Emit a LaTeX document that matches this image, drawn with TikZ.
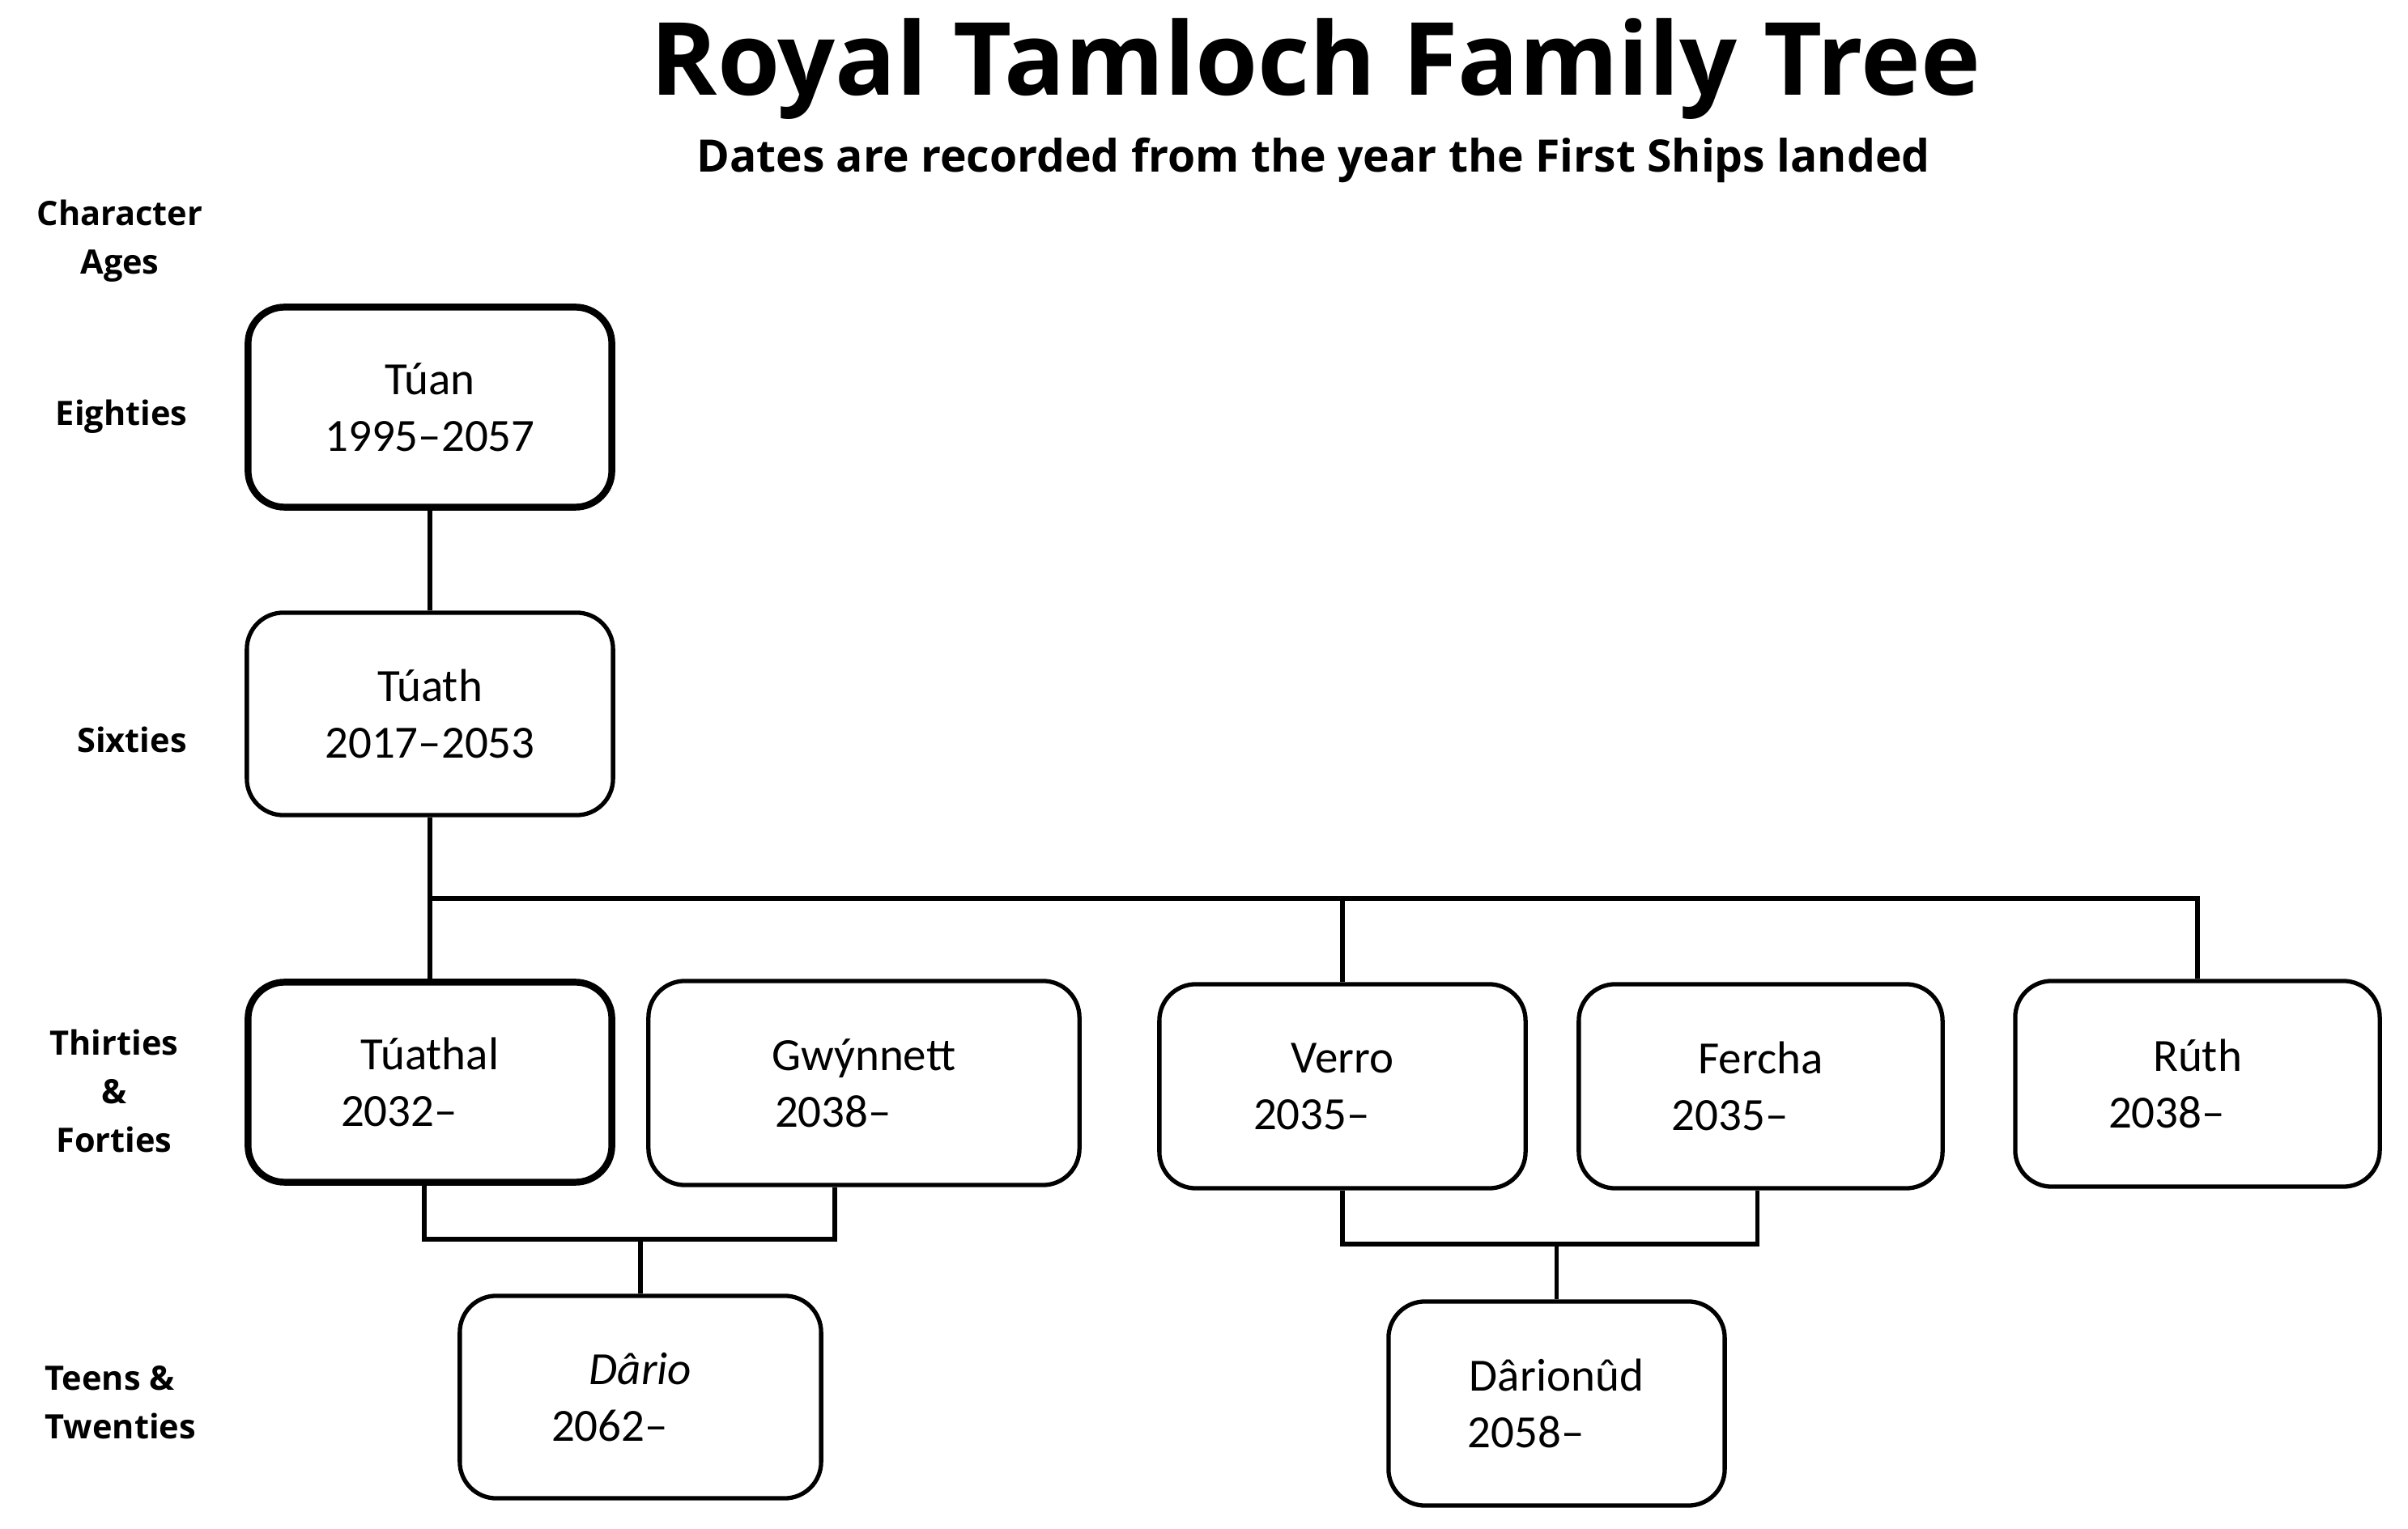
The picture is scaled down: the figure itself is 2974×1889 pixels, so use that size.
\documentclass[tikz,border=0pt]{standalone}
\usepackage{fontspec}
\setmainfont{Carlito}
\newfontfamily\headfont{Open Sans}
\begin{document}
\begin{tikzpicture}[x=0.01cm,y=-0.01cm,
  person/.style={draw, rounded corners=0.45cm, line width=1.5pt, align=center, inner sep=0pt,
    font=\fontsize{16.2}{19.9}\selectfont},
  thickbox/.style={person, line width=2.4pt},
  conn/.style={line width=1.5pt},
  agelabel/.style={align=center, inner sep=0pt, font=\headfont\bfseries\fontsize{11.8}{17.07}\selectfont}
]
\useasboundingbox (0,0) rectangle (2974,1889);
\fill[white] (0,0) rectangle (2974,1889);

% titles
\node[anchor=base, inner sep=0pt, font=\headfont\bfseries\fontsize{35.5}{44}\selectfont] (title) at (1625,118) {Royal Tamloch Family Tree};
\node[anchor=base, inner sep=0pt, font=\headfont\bfseries\fontsize{15.7}{19}\selectfont] (subtitle) at (1622,213) {Dates are recorded from the year the First Ships landed};

% age labels
\node[agelabel] (lchar) at (148,298) {Character\\Ages};
\node[agelabel, anchor=base] (leight) at (150,526) {Eighties};
\node[agelabel, anchor=base] (lsix) at (163,930) {Sixties};
\node[agelabel] (lthirty) at (141,1348) {Thirties\\\&\\Forties};
\node[agelabel, align=left, anchor=west] (lteen) at (55,1733) {Teens \&\\Twenties};

% people
\node[thickbox, minimum width=4.49cm, minimum height=2.47cm] (tuan) at (531,503) {Túan\\1995–2057};
\node[person, minimum width=4.52cm, minimum height=2.50cm] (tuath) at (531,882) {Túath\\2017–2053};
\node[thickbox, minimum width=4.49cm, minimum height=2.47cm] (tuathal) at (531,1337) {Túathal\\2032–\hspace*{21.6pt}};
\node[person, minimum width=5.32cm, minimum height=2.52cm] (gwynnett) at (1067,1338) {Gwýnnett\\2038–\hspace*{21.6pt}};
\node[person, minimum width=4.52cm, minimum height=2.52cm] (verro) at (1658,1342) {Verro\\2035–\hspace*{21.6pt}};
\node[person, minimum width=4.49cm, minimum height=2.52cm] (fercha) at (2174.5,1342) {Fercha\\2035–\hspace*{21.6pt}};
\node[person, minimum width=4.50cm, minimum height=2.54cm] (ruth) at (2714,1339) {Rúth\\2038–\hspace*{21.6pt}};
\node[person, minimum width=4.46cm, minimum height=2.50cm] (dario) at (791,1726) {\textit{Dârio}\\2062–\hspace*{21.6pt}};
\node[person, minimum width=4.15cm, minimum height=2.52cm] (darionud) at (1922.5,1734) {Dârionûd\\2058–\hspace*{21.6pt}};

% connectors
\draw[conn] (tuan.south) -- (tuath.north);
\draw[conn] (tuath.south) -- (tuathal.north);
\coordinate (bar) at (531,1110);
\draw[conn] (bar) -| (ruth.north);
\draw[conn] (bar -| verro.north) -- (verro.north);

\coordinate (mA) at (791,1531);
\draw[conn] ([xshift=-0.07cm]tuathal.south) |- (mA) -| ([xshift=-0.36cm]gwynnett.south);
\draw[conn] (mA) -- (dario.north);

\coordinate (mB) at (1922.5,1537);
\draw[conn] (verro.south) |- (mB) -| ([xshift=-0.04cm]fercha.south);
\draw[conn] (mB) -- (darionud.north);
\end{tikzpicture}
\end{document}
